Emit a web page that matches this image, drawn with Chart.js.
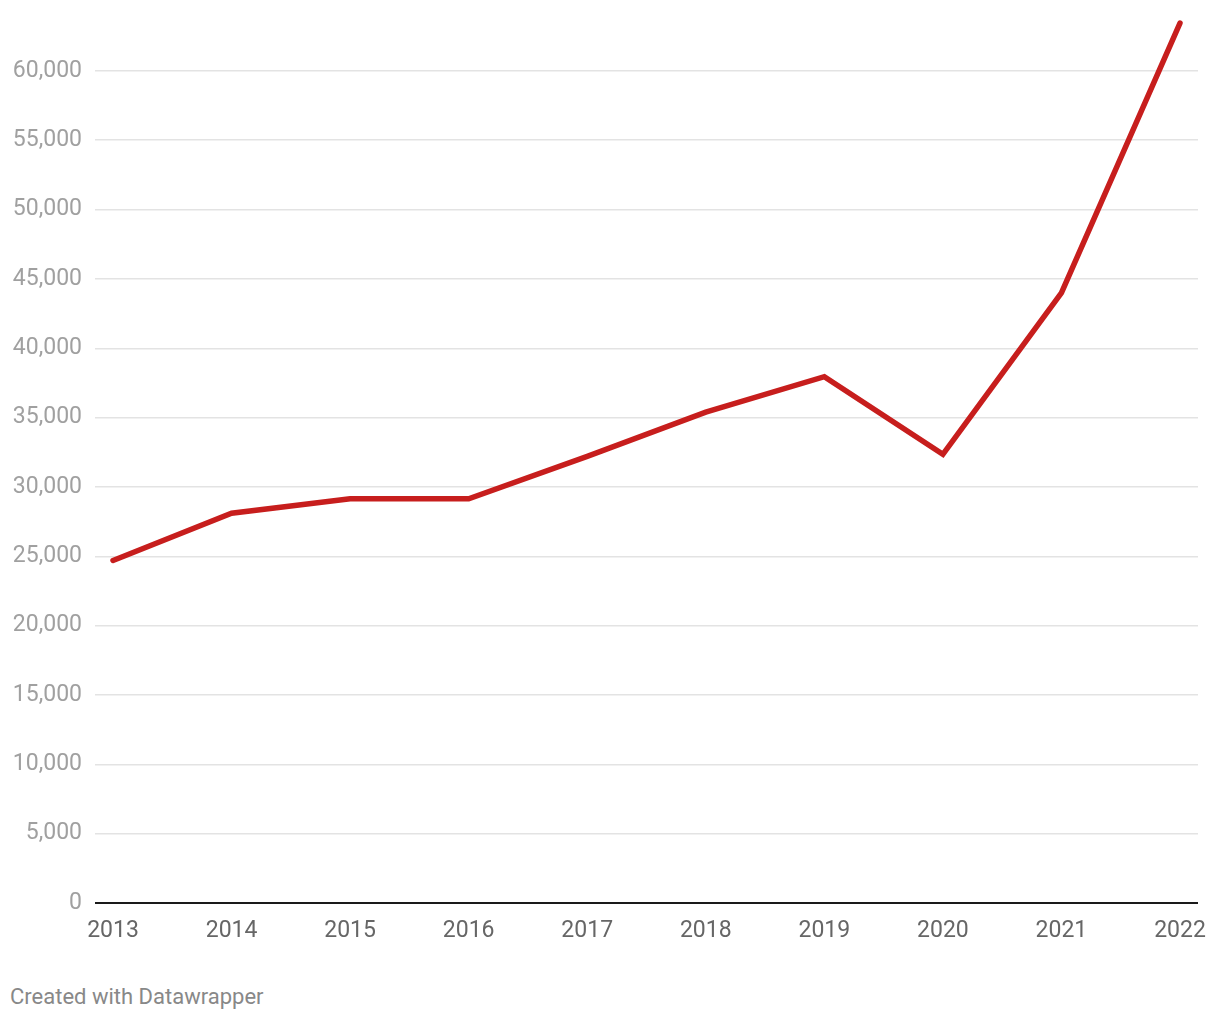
<!DOCTYPE html>
<html>
<head>
<meta charset="utf-8">
<script src="https://cdn.jsdelivr.net/npm/chart.js@4"></script>
<style>
  html, body { margin: 0; padding: 0; background: #fff; }
  #wrap { position: absolute; left: 0; top: 0; width: 1220px; height: 961px; }
  #footer { position: absolute; left: 10px; top: 984px; font-family: Roboto, sans-serif; font-size: 22px; color: #888; line-height: 26px; }
</style>
</head>
<body>
<div id="wrap"><canvas id="c"></canvas></div>
<div id="footer">Created with Datawrapper</div>
<script>
const years = [2013, 2014, 2015, 2016, 2017, 2018, 2019, 2020, 2021, 2022];
const values = [24700, 28100, 29150, 29150, 32200, 35400, 37950, 32350, 44000, 63450];
const yTicks = [0, 5000, 10000, 15000, 20000, 25000, 30000, 35000, 40000, 45000, 50000, 55000, 60000];

const points = years.map((y, i) => ({ x: y, y: values[i] }));

new Chart(document.getElementById('c'), {
  type: 'line',
  data: {
    datasets: [{
      data: points,
      borderColor: '#c71e1d',
      borderWidth: 5.5,
      pointRadius: 0,
      borderCapStyle: 'round',
      borderJoinStyle: 'miter',
      tension: 0,
      fill: false
    }]
  },
  options: {
    responsive: true,
    maintainAspectRatio: false,
    animation: false,
    layout: { padding: { left: 0, right: 22, top: 1, bottom: 0 } },
    plugins: { legend: { display: false }, tooltip: { enabled: false } },
    scales: {
      x: {
        type: 'linear',
        min: 2012.848,
        max: 2022.152,
        afterBuildTicks: (s) => { s.ticks = years.map(v => ({ value: v })); },
        afterFit: (s) => { s.height = 58; s.paddingLeft = 0; s.paddingRight = 0; },
        ticks: {
          color: '#666',
          font: { family: 'Roboto', size: 23 },
          padding: 14,
          maxRotation: 0,
          autoSkip: false,
          callback: (v) => String(v)
        },
        grid: { display: false, drawTicks: false },
        border: { display: false }
      },
      y: {
        min: 0,
        max: 65040,
        afterBuildTicks: (s) => { s.ticks = yTicks.map(v => ({ value: v })); },
        afterFit: (s) => { s.width = 95; s.paddingTop = 0; s.paddingBottom = 0; },
        ticks: {
          color: '#a0a0a0',
          font: { family: 'Roboto', size: 23 },
          padding: 13,
          callback: (v) => v.toLocaleString('en-US')
        },
        grid: {
          drawTicks: false,
          color: (ctx) => ctx.tick && ctx.tick.value === 0 ? '#1a1a1a' : '#e3e3e3',
          lineWidth: (ctx) => ctx.tick && ctx.tick.value === 0 ? 2 : 1.5
        },
        border: { display: false }
      }
    }
  }
});
</script>
</body>
</html>
